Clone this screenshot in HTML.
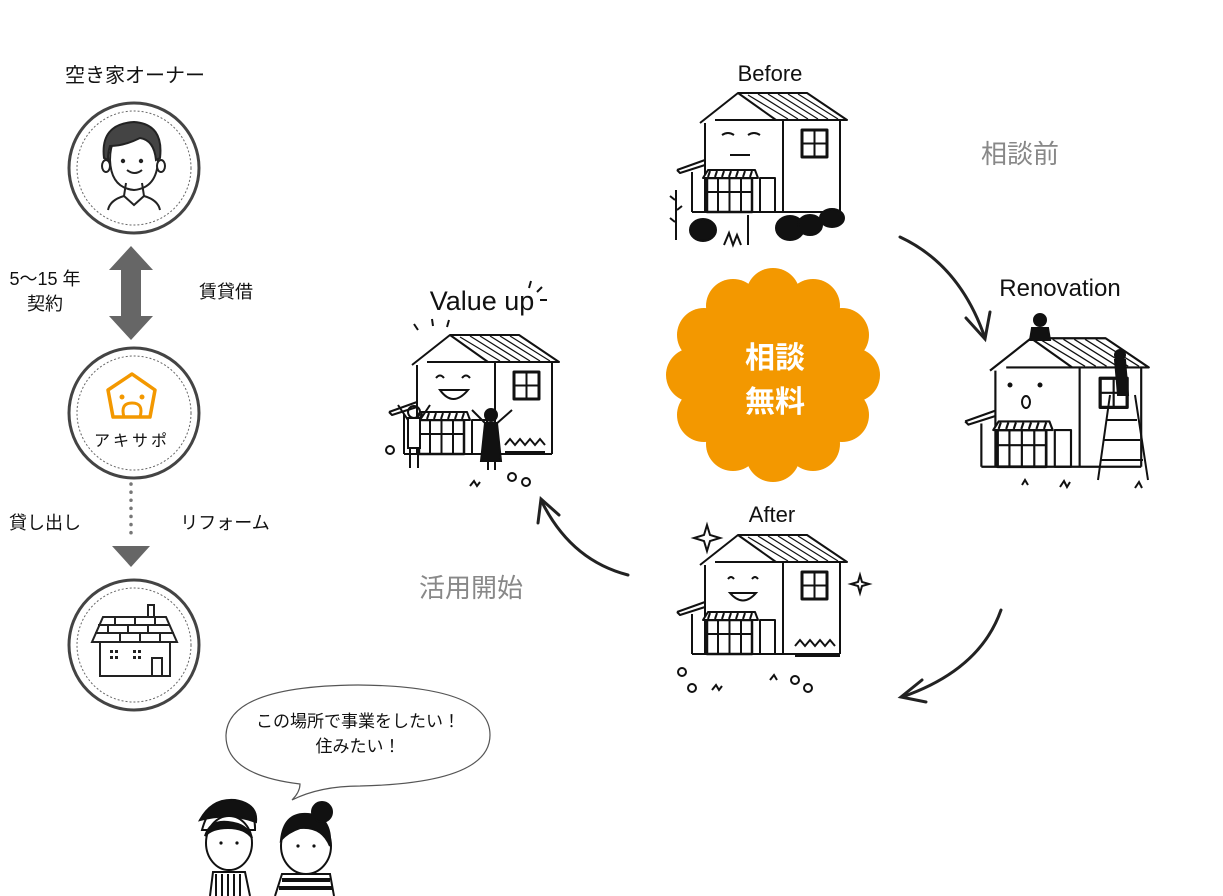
<!DOCTYPE html>
<html><head><meta charset="utf-8"><style>
html,body{margin:0;padding:0;background:#fff}
svg{display:block}
text{font-family:"Liberation Sans","Noto Sans CJK JP",sans-serif}
</style></head><body>
<svg width="1223" height="896" viewBox="0 0 1223 896" xmlns="http://www.w3.org/2000/svg">
<defs>
<g id="house" fill="none" stroke="#111" stroke-width="2" stroke-linejoin="round">
  <path d="M0,33 L38,3 L107,3 L147,30 L15,30" fill="#fff"/>
  <g stroke-width="1.2"><path d="M48,5 L88,29 M58,4 L98,29 M68,4 L108,29 M78,4 L118,29 M88,4 L128,29 M98,4 L138,29"/></g>
  <path d="M38,3 L76,30"/>
  <path d="M5,33 L5,122 M140,30 L140,122 M83,30 L83,122"/>
  <path d="M-23,80 L5,70 M-23,80 L-20,83 L5,75 M-8,82 L-8,122 M-8,122 L140,122"/>
  <rect x="102" y="40" width="25" height="27" stroke-width="3"/>
  <path d="M114.5,40 V67 M102,53.5 H127" stroke-width="2"/>
  <rect x="60" y="88" width="15" height="34"/>
  <rect x="7" y="88" width="45" height="34" stroke-width="2.5"/>
  <path d="M29.5,88 V122 M18,88 V122 M41,88 V122 M7,102 H52"/>
  <path d="M3,88 L8,80 L55,80 L58,88 Z" fill="#fff"/>
  <path d="M10,81 L8,87 M17,81 L15,87 M24,81 L22,87 M31,81 L29,87 M38,81 L36,87 M45,81 L43,87 M52,81 L50,87"/>
</g>
</defs>

<!-- left column -->
<text x="135" y="82" font-size="20" text-anchor="middle" fill="#111">空き家オーナー</text>
<circle cx="134" cy="168" r="65" fill="#fff" stroke="#444" stroke-width="3"/>
<circle cx="134" cy="168" r="57" fill="none" stroke="#666" stroke-width="1" stroke-dasharray="2,2"/>
<g fill="none" stroke="#222" stroke-width="2">
<path d="M110,160 Q110,130 134,128 Q158,130 158,160 Q157,188 134,190 Q111,188 110,160Z" fill="#fff"/>
<path d="M104,158 Q100,124 134,122 Q164,124 160,158 L156,160 Q154,140 140,138 Q124,146 110,146 Q108,152 108,160 Z" fill="#444"/>
<ellipse cx="106" cy="166" rx="4" ry="6" fill="#fff"/><ellipse cx="161" cy="166" rx="4" ry="6" fill="#fff"/>
<path d="M126,183 L124,196 L134,205 L144,196 L142,183"/>
<path d="M124,196 Q110,200 108,210 M144,196 Q158,200 160,210"/>
<path d="M127,170 Q135,176 142,170"/>
</g>
<circle cx="123" cy="161" r="2.2" fill="#222"/><circle cx="141" cy="161" r="2.2" fill="#222"/>

<polygon points="131,246 153,270 141,270 141,316 153,316 131,340 109,316 121,316 121,270 109,270" fill="#666"/>
<text x="45" y="285" font-size="18" text-anchor="middle" fill="#111">5～15 年</text>
<text x="45" y="310" font-size="18" text-anchor="middle" fill="#111">契約</text>
<text x="226" y="298" font-size="18" text-anchor="middle" fill="#111">賃貸借</text>

<circle cx="134" cy="413" r="65" fill="#fff" stroke="#444" stroke-width="3"/>
<circle cx="134" cy="413" r="57" fill="none" stroke="#666" stroke-width="1" stroke-dasharray="2,2"/>
<path d="M132,374 L155,390 L150,417 L113,417 L108,390 Z" fill="none" stroke="#f39800" stroke-width="3.5" stroke-linejoin="round"/>
<circle cx="122" cy="397" r="2.5" fill="#f39800"/><circle cx="142" cy="397" r="2.5" fill="#f39800"/>
<path d="M124,417 Q120,403 132,403 Q144,403 140,417" fill="none" stroke="#f39800" stroke-width="3"/>
<text x="132" y="446" font-size="16" text-anchor="middle" fill="#111" letter-spacing="3">アキサポ</text>

<line x1="131" y1="484" x2="131" y2="540" stroke="#777" stroke-width="3.5" stroke-dasharray="0.1,8" stroke-linecap="round"/>
<polygon points="112,546 150,546 131,567" fill="#666"/>
<text x="45" y="529" font-size="18" text-anchor="middle" fill="#111">貸し出し</text>
<text x="225" y="529" font-size="18" text-anchor="middle" fill="#111">リフォーム</text>

<circle cx="134" cy="645" r="65" fill="#fff" stroke="#444" stroke-width="3"/>
<circle cx="134" cy="645" r="57" fill="none" stroke="#666" stroke-width="1" stroke-dasharray="2,2"/>
<g fill="none" stroke="#222" stroke-width="2">
<rect x="148" y="605" width="6" height="12"/>
<path d="M103,617 L166,617 L177,642 L92,642 Z" fill="#fff"/>
<path d="M98,625 H170 M95,633 H174 M115,617 V625 M135,617 V625 M155,617 V625 M108,625 V633 M128,625 V633 M148,625 V633 M120,633 V642 M140,633 V642 M160,633 V642"/>
<path d="M100,642 L100,676 L170,676 L170,642"/>
<rect x="152" y="658" width="10" height="18"/>
</g>
<g fill="#222"><rect x="110" y="650" width="3" height="3"/><rect x="115" y="650" width="3" height="3"/><rect x="110" y="656" width="3" height="3"/><rect x="115" y="656" width="3" height="3"/><rect x="133" y="650" width="3" height="3"/><rect x="138" y="650" width="3" height="3"/><rect x="133" y="656" width="3" height="3"/><rect x="138" y="656" width="3" height="3"/></g>

<!-- speech bubble -->
<path d="M300,784 Q225,775 226,735 Q228,686 358,685 Q490,686 490,735 Q490,783 360,786 Q320,786 292,800 Q300,792 300,784Z" fill="#fff" stroke="#555" stroke-width="1.2"/>
<text x="358" y="727" font-size="17" text-anchor="middle" fill="#111">この場所で事業をしたい！</text>
<text x="358" y="752" font-size="17" text-anchor="middle" fill="#111">住みたい！</text>

<!-- people -->
<g fill="none" stroke="#111" stroke-width="2">
<path d="M202,830 Q210,800 232,802 Q256,806 255,830 Z" fill="#fff"/>
<path d="M200,820 Q212,798 235,800 Q258,804 256,822 Q230,812 200,820Z" fill="#111"/>
<ellipse cx="229" cy="843" rx="23" ry="27" fill="#fff"/>
<path d="M205,836 Q210,820 228,822 Q248,824 252,838 Q245,828 228,828 Q212,828 205,836Z" fill="#111"/>
<path d="M210,896 L213,872 L245,872 L250,896"/>
<path d="M216,874 V896 M222,874 V896 M228,874 V896 M234,874 V896 M240,874 V896"/>
<ellipse cx="306" cy="846" rx="25" ry="28" fill="#fff"/>
<path d="M281,840 Q284,812 308,814 Q332,816 330,846 Q322,826 300,828 Q288,832 281,840Z" fill="#111"/>
<circle cx="322" cy="812" r="10" fill="#111"/>
<path d="M275,896 L282,874 L330,874 L334,896"/>
<path d="M282,880 H330 M279,888 H333" stroke-width="4"/>
</g>
<g fill="#111"><circle cx="221" cy="843" r="1.6"/><circle cx="237" cy="843" r="1.6"/><circle cx="298" cy="846" r="1.6"/><circle cx="314" cy="846" r="1.6"/></g>

<!-- starburst -->
<g fill="#f39800">
<circle cx="773" cy="375" r="84"/>
<circle cx="853" cy="375" r="27"/><circle cx="842" cy="415" r="27"/><circle cx="813" cy="444" r="27"/><circle cx="773" cy="455" r="27"/><circle cx="733" cy="444" r="27"/><circle cx="704" cy="415" r="27"/><circle cx="693" cy="375" r="27"/><circle cx="704" cy="335" r="27"/><circle cx="733" cy="306" r="27"/><circle cx="773" cy="295" r="27"/><circle cx="813" cy="306" r="27"/><circle cx="842" cy="335" r="27"/>
</g>
<text x="775" y="368" font-size="30" font-weight="bold" text-anchor="middle" fill="#fff">相談</text>
<text x="775" y="412" font-size="30" font-weight="bold" text-anchor="middle" fill="#fff">無料</text>

<!-- labels -->
<text x="770" y="81" font-size="22" text-anchor="middle" fill="#111">Before</text>
<text x="1060" y="296" font-size="24" text-anchor="middle" fill="#111">Renovation</text>
<text x="772" y="522" font-size="22" text-anchor="middle" fill="#111">After</text>
<text x="482" y="310" font-size="27" text-anchor="middle" fill="#111">Value up</text>
<text x="1020" y="163" font-size="26" text-anchor="middle" fill="#888">相談前</text>
<text x="471" y="597" font-size="26" text-anchor="middle" fill="#888">活用開始</text>

<!-- houses -->
<use href="#house" transform="translate(700,90)"/>
<use href="#house" transform="translate(990,335) scale(1.08)"/>
<use href="#house" transform="translate(700,532)"/>
<use href="#house" transform="translate(412,332)"/>

<!-- faces -->
<g fill="none" stroke="#111" stroke-width="2">
<path d="M722,135 Q728,131 734,135 M748,135 Q754,131 760,135 M730,155 H750"/>
<circle cx="1010" cy="385" r="1.5" fill="#111"/><circle cx="1040" cy="385" r="1.5" fill="#111"/>
<ellipse cx="1026" cy="402" rx="4" ry="6"/>
<path d="M728,579 Q731,575 734,579 M752,579 Q755,575 758,579 M730,593 Q743,608 756,593Z"/>
<path d="M436,378 Q440,373 444,378 M462,378 Q466,373 470,378 M440,390 Q453,408 468,390Z"/>
<!-- Before junk -->
<ellipse cx="703" cy="230" rx="13" ry="11" fill="#111"/>
<ellipse cx="790" cy="228" rx="14" ry="12" fill="#111"/>
<ellipse cx="810" cy="225" rx="12" ry="10" fill="#111"/>
<ellipse cx="832" cy="218" rx="12" ry="9" fill="#111"/>
<path d="M676,190 V240 M675,200 l-5,-4 M677,210 l5,-4 M675,222 l-5,-4 M748,215 V245 M724,245 l5,-12 l4,12 l4,-10 l4,10"/>
<!-- renovation ladder & workers -->
<path d="M1110,395 L1098,480 M1135,395 L1148,480 M1107,420 H1137 M1104,440 H1140 M1101,460 H1143"/>
<path d="M1115,360 L1125,360 L1128,395 L1118,395 Z" fill="#111"/>
<circle cx="1120" cy="355" r="5" fill="#111"/>
<circle cx="1040" cy="320" r="6" fill="#111"/>
<path d="M1032,328 L1048,328 L1050,340 L1030,340Z" fill="#111"/>
<path d="M1022,485 l3,-5 l3,5 M1060,487 l4,-6 l3,6 l3,-5 M1135,488 l4,-6 l3,6"/>
<!-- after plants & sparkles -->
<path d="M795,656 H840 M795,646 l5,-6 l5,6 l5,-6 l5,6 l5,-6 l5,6 l5,-6 l5,6"/>
<path d="M707,525 l3,10 l10,3 l-10,3 l-3,10 l-3,-10 l-10,-3 l10,-3Z"/>
<path d="M860,575 l2,7 l7,2 l-7,2 l-2,7 l-2,-7 l-7,-2 l7,-2Z"/>
<circle cx="682" cy="672" r="4"/><circle cx="692" cy="688" r="4"/><circle cx="795" cy="680" r="4"/><circle cx="808" cy="688" r="4"/>
<path d="M712,690 l4,-5 l3,5 l3,-4 M770,680 l4,-5 l3,5"/>
<!-- value up people -->
<path d="M408,418 h12 v30 h-12Z" fill="#fff"/><circle cx="414" cy="412" r="6"/>
<path d="M410,448 V468 M418,448 V468 M408,420 L398,405 M420,420 L430,405"/>
<circle cx="491" cy="415" r="6" fill="#111"/>
<path d="M485,423 h12 l4,38 h-20Z" fill="#111"/>
<path d="M487,425 L472,410 M495,425 L512,410 M488,461 V470 M495,461 V470"/>
<path d="M505,452 h40 M505,445 l5,-6 l5,6 l5,-6 l5,6 l5,-6 l5,6 l5,-6 l5,6"/>
<path d="M418,330 l-4,-6 M433,326 l-1,-7 M447,327 l2,-7 M529,288 l2,-7 M537,292 l5,-5 M540,300 h7"/>
<circle cx="390" cy="450" r="4"/><circle cx="512" cy="477" r="4"/><circle cx="526" cy="482" r="4"/>
<path d="M470,486 l4,-5 l3,5 l3,-4"/>
</g>

<!-- curved arrows -->
<g fill="none" stroke="#222" stroke-width="3" stroke-linecap="round">
<path d="M900,237 Q960,265 985,338"/>
<path d="M966,318 L985,339 L990,312"/>
<path d="M1001,610 Q980,670 902,697"/>
<path d="M922,680 L901,697 L926,702"/>
<path d="M628,575 Q570,560 541,500"/>
<path d="M538,523 L541,499 L559,515"/>
</g>
</svg>
</body></html>
